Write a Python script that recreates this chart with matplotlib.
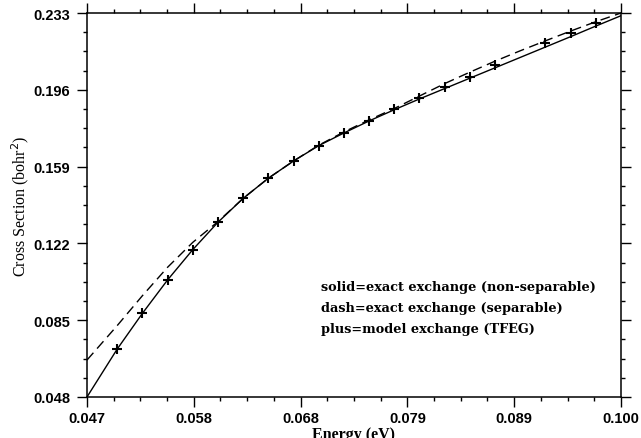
import numpy as np
import matplotlib
matplotlib.use('Agg')
import matplotlib.pyplot as plt
from matplotlib.ticker import AutoMinorLocator

# energies (eV) and cross sections (bohr^2)
e_solid = [0.047, 0.050, 0.0525, 0.055, 0.0575, 0.060, 0.0625, 0.065, 0.0675, 0.070,
           0.0725, 0.075, 0.0775, 0.080, 0.0825, 0.085, 0.0875, 0.090, 0.0925, 0.095,
           0.0975, 0.100]
sig_solid = [0.0480, 0.0711, 0.0883, 0.1044, 0.1190, 0.1322, 0.1437, 0.1534, 0.1617, 0.1691,
             0.1752, 0.1810, 0.1864, 0.1916, 0.1966, 0.2016, 0.2066, 0.2116, 0.2166, 0.2216,
             0.2267, 0.2317]

e_dash = [0.047, 0.050, 0.0525, 0.055, 0.0575, 0.060, 0.0625, 0.065, 0.0675, 0.070,
          0.0725, 0.075, 0.0775, 0.080, 0.0825, 0.085, 0.0875, 0.090, 0.0925, 0.095,
          0.0975, 0.100]
sig_dash = [0.0658, 0.0824, 0.0968, 0.1105, 0.1225, 0.1325, 0.1437, 0.1534, 0.1617, 0.1693,
            0.1757, 0.1815, 0.1870, 0.1930, 0.1990, 0.2045, 0.2098, 0.2148, 0.2196, 0.2243,
            0.2288, 0.2330]

e_plus = [0.050, 0.0525, 0.055, 0.0575, 0.060, 0.0625, 0.065, 0.0675, 0.070, 0.0725,
          0.075, 0.0775, 0.080, 0.0825, 0.085, 0.0875, 0.0925, 0.095, 0.0975]
sig_plus = [0.0711, 0.0883, 0.1044, 0.1190, 0.1322, 0.1437, 0.1534, 0.1617, 0.1691, 0.1752,
            0.1811, 0.1868, 0.1920, 0.1972, 0.2022, 0.2078, 0.2184, 0.2233, 0.2282]

xticks = np.linspace(0.047, 0.100, 6)
xticklabels = ['0.047', '0.058', '0.068', '0.079', '0.089', '0.100']
yticks = np.linspace(0.048, 0.233, 6)
yticklabels = ['0.048', '0.085', '0.122', '0.159', '0.196', '0.233']

notes = ['solid=exact exchange (non-separable)',
         'dash=exact exchange (separable)',
         'plus=model exchange (TFEG)']

fig = plt.figure(figsize=(6.41, 4.39), dpi=100)
ax = fig.add_axes([0.1357, 0.0934, 0.8331, 0.8747])

ax.plot(e_solid, sig_solid, color='black', lw=1.0)
ax.plot(e_dash, sig_dash, color='black', lw=1.0, linestyle=(0, (7, 4)))
ax.plot(e_plus, sig_plus, linestyle='none', marker='+', color='black', ms=7.5, mew=1.5)

ax.set_xlim(0.047, 0.100)
ax.set_ylim(0.048, 0.233)
ax.set_xticks(xticks)
ax.set_xticklabels(xticklabels)
ax.set_yticks(yticks)
ax.set_yticklabels(yticklabels)
ax.xaxis.set_minor_locator(AutoMinorLocator(4))
ax.yaxis.set_minor_locator(AutoMinorLocator(4))
ax.tick_params(which='both', direction='out', top=True, right=True, width=1.0)
ax.tick_params(which='major', length=7)
ax.tick_params(which='minor', length=3)
ax.tick_params(axis='x', which='major', pad=3)
ax.tick_params(axis='y', which='major', pad=5)
for lab in ax.get_xticklabels() + ax.get_yticklabels():
    lab.set_family('Liberation Sans')
    lab.set_fontweight('bold')
    lab.set_fontsize(10.5)
for sp in ax.spines.values():
    sp.set_linewidth(1.1)

ax.set_xlabel('Energy (eV)', family='Liberation Serif', fontweight='bold', fontsize=11.5, labelpad=1)
ax.set_ylabel('Cross Section (bohr$^2$)', family='Liberation Serif', fontsize=11.5, labelpad=2)

for i, t in enumerate(notes):
    ax.text(0.438, 0.289 - i*0.0547, t, transform=ax.transAxes, family='DejaVu Serif',
            fontweight='bold', fontsize=9.3, va='center', ha='left')

fig.savefig('out.png', dpi=100)
